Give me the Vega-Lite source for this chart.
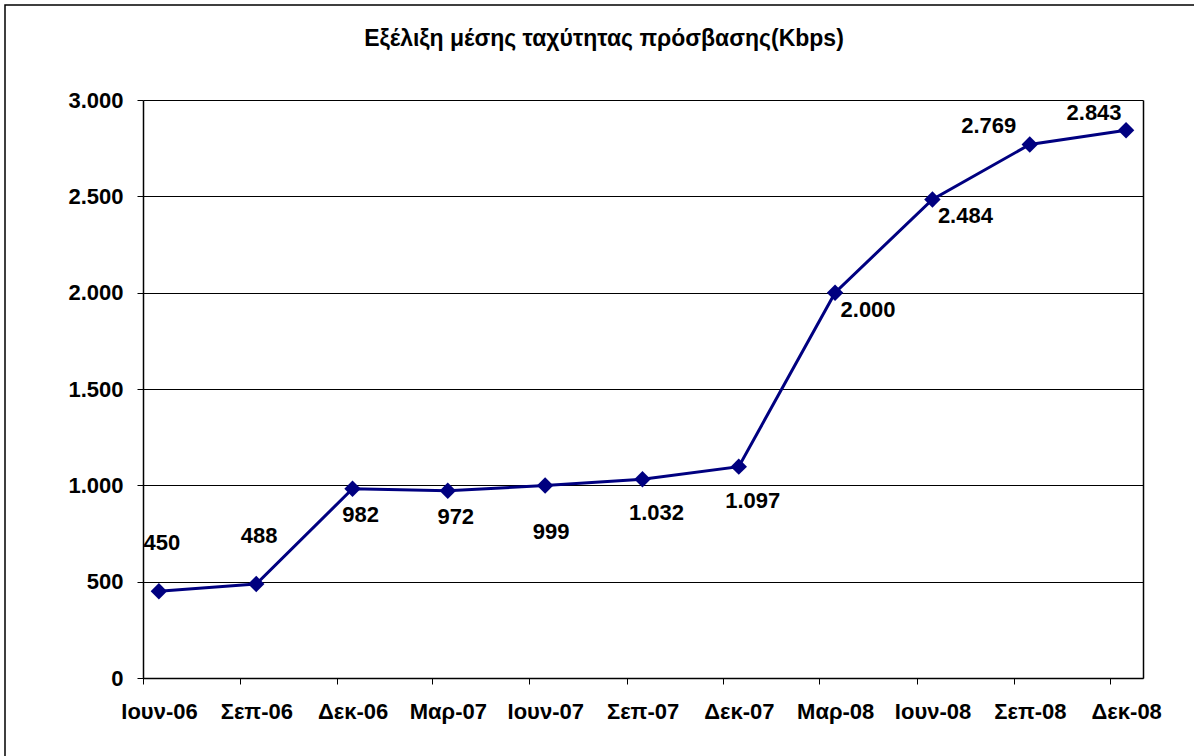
{
  "$schema": "https://vega.github.io/schema/vega-lite/v6.json",
  "width": 1192,
  "height": 754,
  "autosize": {"type": "none"},
  "padding": {"left": 5, "top": 5, "right": -3, "bottom": -3},
  "background": "white",
  "config": {
    "view": {"stroke": "black", "strokeWidth": 1.5},
    "font": "Liberation Sans",
    "locale": {"number": {"decimal": ",", "thousands": ".", "grouping": [3], "currency": ["", " €"]}}
  },
  "title": {
    "text": "Εξέλιξη μέσης ταχύτητας πρόσβασης(Kbps)",
    "font": "Liberation Sans",
    "fontSize": 23,
    "fontWeight": "bold",
    "color": "black",
    "anchor": "middle",
    "frame": "group",
    "offset": -46,
    "dx": 3
  },
  "data": {
    "values": [
      {"date": "2006-06-16", "kbps": 450},
      {"date": "2006-09-16", "kbps": 488},
      {"date": "2006-12-16", "kbps": 982},
      {"date": "2007-03-16", "kbps": 972},
      {"date": "2007-06-16", "kbps": 999},
      {"date": "2007-09-16", "kbps": 1032},
      {"date": "2007-12-16", "kbps": 1097},
      {"date": "2008-03-16", "kbps": 2000},
      {"date": "2008-06-16", "kbps": 2484},
      {"date": "2008-09-16", "kbps": 2769},
      {"date": "2008-12-16", "kbps": 2843}
    ]
  },
  "encoding": {
    "x": {
      "field": "date",
      "type": "temporal",
      "scale": {
        "type": "utc",
        "domain": [
          {"year": 2006, "month": 6, "date": 1, "utc": true},
          {"year": 2009, "month": 1, "date": 1, "utc": true}
        ],
        "range": [138, 1138]
      },
      "axis": {
        "title": null,
        "values": [
          {"year": 2006, "month": 6, "date": 1, "utc": true},
          {"year": 2006, "month": 9, "date": 1, "utc": true},
          {"year": 2006, "month": 12, "date": 1, "utc": true},
          {"year": 2007, "month": 3, "date": 1, "utc": true},
          {"year": 2007, "month": 6, "date": 1, "utc": true},
          {"year": 2007, "month": 9, "date": 1, "utc": true},
          {"year": 2007, "month": 12, "date": 1, "utc": true},
          {"year": 2008, "month": 3, "date": 1, "utc": true},
          {"year": 2008, "month": 6, "date": 1, "utc": true},
          {"year": 2008, "month": 9, "date": 1, "utc": true},
          {"year": 2008, "month": 12, "date": 1, "utc": true}
        ],
        "labelExpr": "['Ιαν','Φεβ','Μαρ','Απρ','Μαϊ','Ιουν','Ιουλ','Αυγ','Σεπ','Οκτ','Νοε','Δεκ'][utcmonth(datum.value)] + '-' + utcFormat(datum.value, '%y')",
        "labelOffset": 16,
        "labelFlush": false,
        "labelOverlap": false,
        "labelFont": "Liberation Sans",
        "labelFontSize": 22,
        "labelFontWeight": "bold",
        "labelColor": "black",
        "labelBaseline": "top",
        "labelPadding": 17,
        "grid": false,
        "domainColor": "black",
        "domainWidth": 1.5,
        "tickColor": "black",
        "tickWidth": 1,
        "tickSize": 6,
        "offset": -81
      }
    },
    "y": {
      "field": "kbps",
      "type": "quantitative",
      "scale": {"domain": [0, 3000], "range": [673, 95], "nice": false, "zero": true}
    }
  },
  "layer": [
    {
      "mark": {"type": "line", "color": "#000080", "strokeWidth": 3},
      "encoding": {
        "y": {
          "field": "kbps",
          "type": "quantitative",
          "axis": {
            "title": null,
            "values": [0, 500, 1000, 1500, 2000, 2500, 3000],
            "format": ",d",
            "grid": true,
            "gridColor": "black",
            "gridWidth": 1,
            "domainColor": "black",
            "domainWidth": 1.5,
            "tickColor": "black",
            "tickWidth": 1,
            "tickSize": 6,
            "labelFont": "Liberation Sans",
            "labelFontSize": 22,
            "labelFontWeight": "bold",
            "labelColor": "black",
            "labelPadding": 14,
            "offset": -138
          }
        }
      }
    },
    {
      "mark": {"type": "point", "shape": "diamond", "filled": true, "color": "#000080", "size": 270, "opacity": 1},
      "encoding": {
        "y": {
          "field": "kbps",
          "type": "quantitative",
          "axis": {
            "title": null,
            "orient": "right",
            "labels": false,
            "ticks": false,
            "grid": false,
            "domainColor": "black",
            "domainWidth": 1.5,
            "offset": -54
          }
        }
      }
    },
    {
      "transform": [{"filter": "datum.kbps == 450 || datum.kbps == 488"}],
      "mark": {"type": "text", "dx": 3, "dy": -48, "fontSize": 22, "fontWeight": "bold", "color": "black", "baseline": "middle"},
      "encoding": {"y": {"field": "kbps", "type": "quantitative", "axis": null}, "text": {"field": "kbps", "type": "quantitative", "format": ",d"}}
    },
    {
      "transform": [{"filter": "datum.kbps == 982 || datum.kbps == 972"}],
      "mark": {"type": "text", "dx": 8, "dy": 26, "fontSize": 22, "fontWeight": "bold", "color": "black", "baseline": "middle"},
      "encoding": {"y": {"field": "kbps", "type": "quantitative", "axis": null}, "text": {"field": "kbps", "type": "quantitative", "format": ",d"}}
    },
    {
      "transform": [{"filter": "datum.kbps == 1032 || datum.kbps == 1097"}],
      "mark": {"type": "text", "dx": 14, "dy": 34, "fontSize": 22, "fontWeight": "bold", "color": "black", "baseline": "middle"},
      "encoding": {"y": {"field": "kbps", "type": "quantitative", "axis": null}, "text": {"field": "kbps", "type": "quantitative", "format": ",d"}}
    },
    {
      "transform": [{"filter": "datum.kbps == 999"}],
      "mark": {"type": "text", "dx": 6, "dy": 46, "fontSize": 22, "fontWeight": "bold", "color": "black", "baseline": "middle"},
      "encoding": {"y": {"field": "kbps", "type": "quantitative", "axis": null}, "text": {"field": "kbps", "type": "quantitative", "format": ",d"}}
    },
    {
      "transform": [{"filter": "datum.kbps == 2000 || datum.kbps == 2484"}],
      "mark": {"type": "text", "dx": 33, "dy": 17, "fontSize": 22, "fontWeight": "bold", "color": "black", "baseline": "middle"},
      "encoding": {"y": {"field": "kbps", "type": "quantitative", "axis": null}, "text": {"field": "kbps", "type": "quantitative", "format": ",d"}}
    },
    {
      "transform": [{"filter": "datum.kbps == 2769"}],
      "mark": {"type": "text", "dx": -41, "dy": -19, "fontSize": 22, "fontWeight": "bold", "color": "black", "baseline": "middle"},
      "encoding": {"y": {"field": "kbps", "type": "quantitative", "axis": null}, "text": {"field": "kbps", "type": "quantitative", "format": ",d"}}
    },
    {
      "transform": [{"filter": "datum.kbps == 2843"}],
      "mark": {"type": "text", "dx": -32, "dy": -17, "fontSize": 22, "fontWeight": "bold", "color": "black", "baseline": "middle"},
      "encoding": {"y": {"field": "kbps", "type": "quantitative", "axis": null}, "text": {"field": "kbps", "type": "quantitative", "format": ",d"}}
    }
  ],
  "resolve": {"axis": {"y": "independent"}}
}
